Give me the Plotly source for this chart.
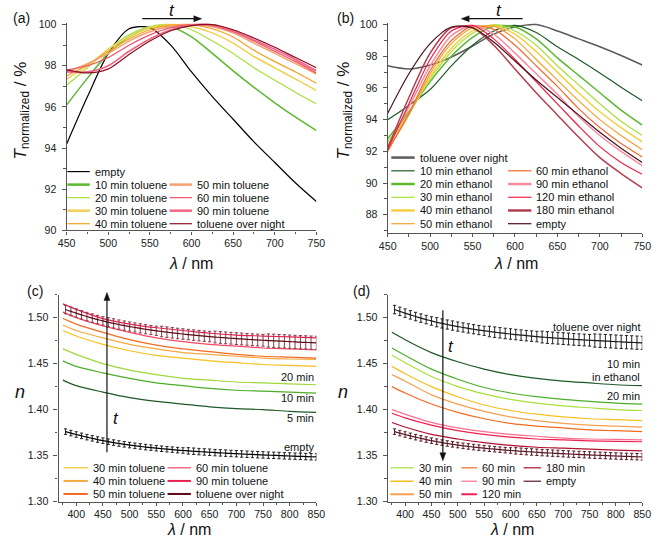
import math
import plotly.graph_objects as go

W, H = 661, 547
FONT = "Liberation Sans, Arial, sans-serif"

# ---------------- data: panel (a) toluene uptake, transmission ----------------
wl_ab = [450, 475, 500, 525, 550, 575, 600, 625, 650, 675, 700, 725, 750]
a_empty = [94.2, 96.5, 98.6, 99.8, 99.85, 99.0, 97.7, 96.5, 95.4, 94.3, 93.3, 92.3, 91.4]
a_10 = [96.1, 97.4, 98.6, 99.4, 99.85, 99.9, 99.4, 98.6, 97.75, 96.95, 96.2, 95.5, 94.85]
a_20 = [97.05, 97.9, 98.8, 99.5, 99.9, 100.0, 99.75, 99.2, 98.6, 97.9, 97.3, 96.7, 96.15]
a_30 = [97.35, 98.0, 98.8, 99.4, 99.85, 100.0, 99.9, 99.6, 99.1, 98.45, 97.9, 97.35, 96.8]
a_40 = [97.5, 98.05, 98.7, 99.3, 99.75, 99.97, 100.0, 99.8, 99.4, 98.75, 98.2, 97.7, 97.15]
a_50 = [97.7, 98.1, 98.6, 99.2, 99.65, 99.92, 100.0, 99.9, 99.6, 99.1, 98.6, 98.1, 97.6]
a_60 = [97.8, 98.0, 98.4, 99.0, 99.5, 99.85, 100.0, 99.95, 99.65, 99.2, 98.7, 98.2, 97.65]
a_90 = [97.7, 97.7, 98.0, 98.7, 99.3, 99.75, 99.97, 99.98, 99.7, 99.25, 98.8, 98.3, 97.75]
a_on = [97.8, 97.65, 97.85, 98.55, 99.2, 99.7, 99.95, 100.0, 99.75, 99.35, 98.9, 98.4, 97.9]

# ---------------- data: panel (b) ethanol exchange, transmission ----------------
b_on = [97.4, 97.2, 97.45, 97.95, 98.65, 99.4, 99.85, 100.0, 99.6, 99.1, 98.6, 98.05, 97.45]
b_10 = [94.0, 94.9, 95.9, 97.4, 98.7, 99.6, 99.95, 99.5, 98.6, 97.8, 96.95, 96.05, 95.2]
b_20 = [92.8, 94.5, 96.4, 98.0, 99.2, 99.9, 99.85, 99.1, 97.9, 96.8, 95.7, 94.6, 93.65]
b_30 = [92.6, 94.4, 96.55, 98.3, 99.45, 100.0, 99.6, 98.7, 97.4, 96.2, 95.0, 93.9, 93.0]
b_40 = [92.4, 94.4, 96.7, 98.5, 99.6, 99.95, 99.4, 98.3, 97.0, 95.7, 94.5, 93.5, 92.6]
b_50 = [92.1, 94.3, 96.9, 98.8, 99.8, 99.9, 99.1, 97.8, 96.5, 95.2, 94.0, 93.0, 92.1]
b_60 = [92.0, 94.4, 97.1, 99.0, 99.9, 99.7, 98.7, 97.4, 96.1, 94.7, 93.5, 92.5, 91.65]
b_90 = [92.3, 94.8, 97.4, 99.3, 99.95, 99.4, 98.2, 96.9, 95.6, 94.2, 93.0, 92.0, 91.1]
b_120 = [92.1, 95.0, 97.8, 99.6, 99.95, 99.1, 97.8, 96.4, 95.0, 93.6, 92.3, 91.3, 90.55]
b_180 = [92.2, 95.4, 98.2, 99.8, 99.8, 98.7, 97.2, 95.7, 94.3, 92.9, 91.6, 90.6, 89.7]
b_empty = [94.4, 96.9, 98.8, 99.85, 99.8, 98.9, 97.7, 96.5, 95.4, 94.3, 93.2, 92.2, 91.3]

# ---------------- data: panels (c),(d) refractive index ----------------
wl_cd = [375, 400, 450, 500, 550, 600, 650, 700, 750, 800, 850]
c_5 = [1.432, 1.426, 1.419, 1.413, 1.409, 1.406, 1.403, 1.401, 1.400, 1.398, 1.397]
c_10 = [1.453, 1.447, 1.440, 1.434, 1.429, 1.426, 1.423, 1.421, 1.420, 1.419, 1.418]
c_20 = [1.466, 1.460, 1.450, 1.443, 1.438, 1.434, 1.432, 1.430, 1.429, 1.428, 1.427]
c_30 = [1.486, 1.480, 1.471, 1.464, 1.459, 1.456, 1.453, 1.451, 1.449, 1.448, 1.447]
c_40 = [1.492, 1.486, 1.478, 1.471, 1.466, 1.462, 1.460, 1.458, 1.456, 1.455, 1.4545]
c_50 = [1.499, 1.493, 1.484, 1.476, 1.470, 1.466, 1.463, 1.460, 1.458, 1.457, 1.456]
c_60 = [1.506, 1.500, 1.491, 1.484, 1.478, 1.474, 1.471, 1.469, 1.467, 1.466, 1.465]
c_90 = [1.515, 1.509, 1.499, 1.493, 1.489, 1.486, 1.483, 1.481, 1.480, 1.479, 1.478]

d_10 = [1.484, 1.476, 1.462, 1.452, 1.444, 1.438, 1.434, 1.431, 1.429, 1.427, 1.426]
d_20 = [1.467, 1.459, 1.444, 1.433, 1.424, 1.418, 1.414, 1.411, 1.409, 1.407, 1.406]
d_30 = [1.459, 1.451, 1.436, 1.425, 1.417, 1.411, 1.407, 1.404, 1.402, 1.400, 1.399]
d_40 = [1.447, 1.439, 1.425, 1.414, 1.405, 1.399, 1.395, 1.392, 1.390, 1.389, 1.388]
d_50 = [1.438, 1.431, 1.416, 1.406, 1.398, 1.392, 1.388, 1.385, 1.383, 1.382, 1.381]
d_60 = [1.425, 1.418, 1.406, 1.397, 1.390, 1.385, 1.382, 1.380, 1.378, 1.377, 1.376]
d_90 = [1.400, 1.395, 1.386, 1.380, 1.376, 1.373, 1.371, 1.369, 1.368, 1.3675, 1.367]
d_120 = [1.396, 1.391, 1.383, 1.377, 1.373, 1.370, 1.368, 1.367, 1.366, 1.3655, 1.365]
d_180 = [1.386, 1.381, 1.373, 1.368, 1.364, 1.361, 1.359, 1.358, 1.357, 1.356, 1.355]

wl_err = [380, 390, 400, 410, 420, 430, 440, 450, 460, 470, 480, 490, 500, 510, 520, 530,
          540, 550, 560, 570, 580, 590, 600, 610, 620, 630, 640, 650, 660, 670, 680, 690,
          700, 710, 720, 730, 740, 750, 760, 770, 780, 790, 800, 810, 820, 830, 840, 850]
n_overnight = [1.5088, 1.5068, 1.5049, 1.5030, 1.5012, 1.4995, 1.4979, 1.4964, 1.4950, 1.4937,
               1.4925, 1.4914, 1.4903, 1.4893, 1.4883, 1.4874, 1.4865, 1.4857, 1.4849, 1.4842,
               1.4835, 1.4828, 1.4822, 1.4816, 1.4810, 1.4804, 1.4799, 1.4794, 1.4789, 1.4784,
               1.4780, 1.4776, 1.4772, 1.4768, 1.4764, 1.4760, 1.4757, 1.4754, 1.4751, 1.4748,
               1.4745, 1.4742, 1.4739, 1.4736, 1.4733, 1.4731, 1.4728, 1.4726]
err_overnight = [0.0046, 0.0046, 0.0046, 0.0046, 0.0046, 0.0046, 0.0046, 0.0046, 0.0050, 0.0050,
                 0.0050, 0.0050, 0.0050, 0.0050, 0.0050, 0.0050, 0.0050, 0.0050, 0.0057, 0.0057,
                 0.0057, 0.0057, 0.0057, 0.0057, 0.0057, 0.0057, 0.0057, 0.0057, 0.0064, 0.0064,
                 0.0064, 0.0064, 0.0064, 0.0064, 0.0064, 0.0064, 0.0064, 0.0064, 0.0072, 0.0072,
                 0.0072, 0.0072, 0.0072, 0.0072, 0.0072, 0.0072, 0.0072, 0.0072]
n_empty = [1.3760, 1.3744, 1.3729, 1.3714, 1.3700, 1.3687, 1.3674, 1.3662, 1.3651, 1.3641,
           1.3631, 1.3622, 1.3614, 1.3606, 1.3599, 1.3592, 1.3586, 1.3580, 1.3574, 1.3569,
           1.3564, 1.3559, 1.3555, 1.3551, 1.3547, 1.3543, 1.3539, 1.3536, 1.3532, 1.3529,
           1.3526, 1.3523, 1.3520, 1.3517, 1.3514, 1.3512, 1.3509, 1.3507, 1.3504, 1.3502,
           1.3500, 1.3497, 1.3495, 1.3493, 1.3491, 1.3489, 1.3487, 1.3485]
err_empty = [0.0030, 0.0030, 0.0030, 0.0030, 0.0030, 0.0030, 0.0030, 0.0030, 0.0030, 0.0030,
             0.0030, 0.0030, 0.0030, 0.0030, 0.0030, 0.0030, 0.0030, 0.0030, 0.0030, 0.0030,
             0.0030, 0.0030, 0.0030, 0.0035, 0.0035, 0.0035, 0.0035, 0.0035, 0.0035, 0.0035,
             0.0035, 0.0035, 0.0035, 0.0035, 0.0035, 0.0035, 0.0035, 0.0035, 0.0035, 0.0035,
             0.0035, 0.0035, 0.0035, 0.0035, 0.0035, 0.0035, 0.0035, 0.0035]

# ---------------- figure ----------------
fig = go.Figure()
shapes, annos = [], []


def px(x, y):
    return x / W, 1 - y / H


def line(xs, ys, ax, color, width=1.2, err=None, errcolor=None):
    tr = dict(x=xs, y=ys, mode="lines", xaxis=ax[0], yaxis=ax[1], showlegend=False,
              line=dict(color=color, width=width, shape="spline", smoothing=0.8),
              hoverinfo="skip")
    if err is not None:
        tr["error_y"] = dict(type="data", array=err, visible=True, thickness=1,
                             width=1.6, color=errcolor or color)
    fig.add_trace(go.Scatter(**tr))


def text(x, y, s, size=11, xanchor="left", angle=0, yanchor="middle"):
    xx, yy = px(x, y)
    annos.append(dict(x=xx, y=yy, xref="paper", yref="paper", text=s, showarrow=False,
                      xanchor=xanchor, yanchor=yanchor, textangle=angle,
                      font=dict(family=FONT, size=size, color="#111")))


def leg(x0, x1, y, color, s, width=1.2):
    a, b = px(x0, y)
    c, _ = px(x1, y)
    shapes.append(dict(type="line", xref="paper", yref="paper", x0=a, x1=c, y0=b, y1=b,
                       line=dict(color=color, width=width)))
    text(x1 + 3, y, s)


def arrow(xh, yh, xt, yt):
    L = math.hypot(xh - xt, yh - yt)
    ux, uy = (xh - xt) / L, (yh - yt) / L
    pxp, pyp = -uy, ux
    bx, by = xh - 8 * ux, yh - 8 * uy
    a, b = px(xt, yt)
    c, d = px(bx, by)
    shapes.append(dict(type="line", xref="paper", yref="paper", x0=a, y0=b, x1=c, y1=d,
                       line=dict(color="#111", width=1.2)))
    p1 = px(xh, yh)
    p2 = px(bx + 3 * pxp, by + 3 * pyp)
    p3 = px(bx - 3 * pxp, by - 3 * pyp)
    path = "M %.5f %.5f L %.5f %.5f L %.5f %.5f Z" % (p1[0], p1[1], p2[0], p2[1], p3[0], p3[1])
    shapes.append(dict(type="path", xref="paper", yref="paper", path=path,
                       fillcolor="#111", line=dict(color="#111", width=0.5)))


# ----- panel (a)
A = ("x", "y")
ca = dict(empty="#000000", m10="#5cb82e", m20="#a8e03a", m30="#f0d050", m40="#f5a020",
          m50="#f7a070", m60="#f0506a", m90="#f06685", on="#8b1020")
line(wl_ab, a_empty, A, ca["empty"])
line(wl_ab, a_10, A, ca["m10"], 1.5)
line(wl_ab, a_20, A, ca["m20"])
line(wl_ab, a_30, A, ca["m30"], 1.5)
line(wl_ab, a_40, A, ca["m40"])
line(wl_ab, a_50, A, ca["m50"], 1.5)
line(wl_ab, a_60, A, ca["m60"])
line(wl_ab, a_90, A, ca["m90"], 1.8)
line(wl_ab, a_on, A, ca["on"])

# ----- panel (b)
B = ("x2", "y2")
cb = dict(on="#5a5a5a", m10="#1e5a28", m20="#5cb82e", m30="#a8e03a", m40="#f2d040",
          m50="#f5a030", m60="#f26a30", m90="#f58aa0", m120="#f0204a", m180="#b0404f",
          empty="#4a0f1e")
line(wl_ab, b_on, B, cb["on"], 1.5)
line(wl_ab, b_10, B, cb["m10"])
line(wl_ab, b_20, B, cb["m20"], 1.5)
line(wl_ab, b_30, B, cb["m30"])
line(wl_ab, b_40, B, cb["m40"], 1.5)
line(wl_ab, b_50, B, cb["m50"])
line(wl_ab, b_60, B, cb["m60"])
line(wl_ab, b_90, B, cb["m90"], 1.5)
line(wl_ab, b_120, B, cb["m120"])
line(wl_ab, b_180, B, cb["m180"], 1.5)
line(wl_ab, b_empty, B, cb["empty"])

# ----- panel (c)
C = ("x3", "y3")
cc = dict(m5="#1e5a28", m10="#4cae2a", m20="#a0d83a", m30="#f5c020", m40="#f5a840",
          m50="#f26a20", m60="#f04a68", m90="#e82050", on="#5a0a14", empty="#000000")
line(wl_cd, c_5, C, cc["m5"])
line(wl_cd, c_10, C, cc["m10"])
line(wl_cd, c_20, C, cc["m20"])
line(wl_cd, c_30, C, cc["m30"])
line(wl_cd, c_40, C, cc["m40"])
line(wl_cd, c_50, C, cc["m50"])
line(wl_cd, c_60, C, cc["m60"])
line(wl_cd, c_90, C, cc["m90"])
line(wl_err, n_overnight, C, cc["on"], 1.2, err_overnight, "#8a3a48")
line(wl_err, n_empty, C, cc["empty"], 1.2, err_empty, "#222222")

# ----- panel (d)
D = ("x4", "y4")
cd = dict(on="#1a1a1a", m10="#1e5a28", m20="#4cae2a", m30="#a8e03a", m40="#f5c020",
          m50="#f5a050", m60="#f26a20", m90="#f77090", m120="#f02050", m180="#b01030",
          empty="#5a1a28")
line(wl_cd, d_10, D, cd["m10"])
line(wl_cd, d_20, D, cd["m20"])
line(wl_cd, d_30, D, cd["m30"])
line(wl_cd, d_40, D, cd["m40"])
line(wl_cd, d_50, D, cd["m50"])
line(wl_cd, d_60, D, cd["m60"])
line(wl_cd, d_90, D, cd["m90"])
line(wl_cd, d_120, D, cd["m120"])
line(wl_cd, d_180, D, cd["m180"])
line(wl_err, n_overnight, D, cd["on"], 1.2, err_overnight, "#222222")
line(wl_err, n_empty, D, cd["empty"], 1.2, err_empty, "#5a1a28")

# ----- legends
# (a)
leg(60, 83, 170, ca["empty"], "empty")
leg(60, 83, 183.3, ca["m10"], "10 min toluene", 2.5)
leg(60, 83, 196.6, ca["m20"], "20 min toluene")
leg(60, 83, 209.9, ca["m30"], "30 min toluene", 2.5)
leg(60, 83, 223.2, ca["m40"], "40 min toluene")
leg(165, 188, 183.3, ca["m50"], "50 min toluene", 2.5)
leg(165, 188, 196.6, ca["m60"], "60 min toluene")
leg(165, 188, 209.9, ca["m90"], "90 min toluene", 2.5)
leg(165, 188, 223.2, ca["on"], "toluene over night")
# (b)
leg(393, 417, 155.7, cb["on"], "toluene over night", 2.5)
leg(393, 417, 169.2, cb["m10"], "10 min ethanol")
leg(393, 417, 182.7, cb["m20"], "20 min ethanol", 2.5)
leg(393, 417, 196.2, cb["m30"], "30 min ethanol")
leg(393, 417, 209.7, cb["m40"], "40 min ethanol", 2.5)
leg(393, 417, 223.2, cb["m50"], "50 min ethanol")
leg(513, 537, 169.2, cb["m60"], "60 min ethanol")
leg(513, 537, 182.7, cb["m90"], "90 min ethanol", 2.5)
leg(513, 537, 196.2, cb["m120"], "120 min ethanol")
leg(513, 537, 209.7, cb["m180"], "180 min ethanol", 2.5)
leg(513, 537, 223.2, cb["empty"], "empty")
# (c)
leg(56, 81, 472.3, cc["m30"], "30 min toluene")
leg(56, 81, 485.7, cc["m40"], "40 min toluene", 2)
leg(56, 81, 499.0, cc["m50"], "50 min toluene", 2)
leg(163, 187, 472.3, cc["m60"], "60 min toluene")
leg(163, 187, 485.7, cc["m90"], "90 min toluene", 2)
leg(163, 187, 499.0, cc["on"], "toluene over night", 2)
# (d)
leg(392, 416, 472.3, cd["m30"], "30 min")
leg(392, 416, 486.0, cd["m40"], "40 min", 1.5)
leg(392, 416, 499.3, cd["m50"], "50 min", 2)
leg(465, 481, 472.3, cd["m60"], "60 min")
leg(465, 481, 486.0, cd["m90"], "90 min")
leg(465, 481, 499.3, cd["m120"], "120 min", 2)
leg(529, 547, 472.3, cd["m180"], "180 min")
leg(529, 547, 486.0, cd["empty"], "empty")

# ----- panel labels, titles, arrows
text(2, 13, "(a)", 14)
text(335, 13, "(b)", 14)
text(16, 292, "(c)", 14)
text(352, 292, "(d)", 14)

for cx in (187, 521):
    text(cx, 264, "<i>λ</i> / nm", 16, "center")
for cx in (185, 517):
    text(cx, 535, "<i>λ</i> / nm", 16, "center")
text(13, 108, "<i>T</i><sub>normalized</sub> / %", 17, "center", -90)
text(345, 108, "<i>T</i><sub>normalized</sub> / %", 17, "center", -90)
text(11, 395, "<i>n</i>", 18, "center")
text(343, 395, "<i>n</i>", 18, "center")

arrow(198, 14, 137, 14)
text(168, 6, "<i>t</i>", 17, "center")
arrow(465, 14, 528, 14)
text(504, 6, "<i>t</i>", 17, "center")
arrow(100.7, 293.5, 100.7, 456.5)
text(105, 422, "<i>t</i>", 17, "left")
arrow(446, 465, 446, 311.5)
text(449, 348, "<i>t</i>", 17, "left")

text(316, 380, "20 min", 11, "right")
text(316, 401.5, "10 min", 11, "right")
text(316, 421.5, "5 min", 11, "right")
text(316, 451, "empty", 11, "right")
text(651, 328.5, "toluene over night", 11, "right")
text(651, 366, "10 min", 11, "right")
text(651, 379.5, "in ethanol", 11, "right")
text(651, 399.5, "20 min", 11, "right")

# ----- axes
AXC = "#555555"


def axis(domain, rng, dtick, mdtick, anchor, fmt=None):
    d = dict(domain=domain, range=rng, dtick=dtick, anchor=anchor, showline=True,
             linecolor=AXC, linewidth=1.3, ticks="outside", ticklen=4, tickwidth=1,
             tickcolor=AXC, showgrid=False, zeroline=False, ticklabeloverflow="allow",
             tickfont=dict(family=FONT, size=10.6, color="#222"),
             minor=dict(ticks="outside", ticklen=2.5, dtick=mdtick, tickcolor=AXC,
                        showgrid=False))
    if fmt:
        d["tickformat"] = fmt
    return d


def dom_x(l, r):
    return [l / W, r / W]


def dom_y(b, t):
    return [1 - b / H, 1 - t / H]


xa = axis(dom_x(59.3, 316), [450, 750], 50, 25, "y")
xa["tick0"] = 450
ya = axis(dom_y(230, 17.9), [90, 100.1], 2, 1, "x")
ya["tick0"] = 90
xb = axis(dom_x(389.3, 651), [450, 750], 50, 25, "y2")
xb["tick0"] = 450
yb = axis(dom_y(232.6, 18.4), [86.85, 100.1], 2, 1, "x2")
yb["tick0"] = 86
xc = axis(dom_x(51, 316), [367, 850], 50, 25, "y3")
xc["tick0"] = 400
yc = axis(dom_y(506.7, 295.6), [1.30, 1.525], 0.05, 0.025, "x3", ".2f")
yc["tick0"] = 1.30
xd = axis(dom_x(389.3, 651), [367, 850], 50, 25, "y4")
xd["tick0"] = 400
yd = axis(dom_y(506.7, 295.6), [1.30, 1.525], 0.05, 0.025, "x4", ".2f")
yd["tick0"] = 1.30
for ax in (ya, yb, yc, yd):
    ax["ticklabelstandoff"] = 3
for ax in (xa, xb, xc, xd):
    ax["ticklen"] = 3

fig.update_layout(
    width=W, height=H, margin=dict(l=0, r=0, t=0, b=0),
    paper_bgcolor="white", plot_bgcolor="white", showlegend=False,
    font=dict(family=FONT, size=11, color="#111"),
    xaxis=xa, yaxis=ya, xaxis2=xb, yaxis2=yb, xaxis3=xc, yaxis3=yc, xaxis4=xd, yaxis4=yd,
    shapes=shapes, annotations=annos,
)

# the page body has a default 8px margin; remove it so the figure fills the window
fig.write_html("out.html", config={"displayModeBar": False},
               post_script="document.body.style.margin='0';document.body.style.overflow='hidden';")
